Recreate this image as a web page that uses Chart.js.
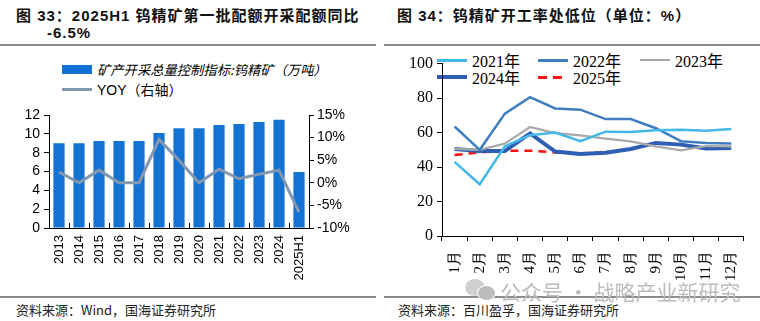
<!DOCTYPE html>
<html>
<head>
<meta charset="utf-8">
<script src="https://cdn.jsdelivr.net/npm/chart.js@4/dist/chart.umd.min.js"></script>
<style>
  body{margin:0;background:#fff;width:760px;height:321px;position:relative;overflow:hidden;font-family:"Liberation Sans","Noto Sans CJK SC",sans-serif;}
  .abs{position:absolute;}
  .title{font-weight:bold;font-size:15px;color:#111;letter-spacing:1px;white-space:nowrap;}
  .rule{height:1.5px;background:#8c8c8c;}
  .src{font-size:13px;color:#222;white-space:nowrap;font-family:"Noto Sans CJK SC","Liberation Sans",sans-serif;}
  .leg{font-size:13px;white-space:nowrap;display:flex;align-items:center;}
  .sw{display:inline-block;margin-right:5px;}
</style>
</head>
<body>
<div class="abs title" style="left:16px;top:4px;">图 33：2025H1 钨精矿第一批配额开采配额同比</div>
<div class="abs title" style="left:47px;top:24px;">-6.5%</div>
<div class="abs title" style="left:397px;top:4px;">图 34：钨精矿开工率处低位（单位：%）</div>
<div class="abs rule" style="left:0;top:44px;width:376px;"></div>
<div class="abs rule" style="left:384px;top:44px;width:376px;"></div>
<div class="abs rule" style="left:0;top:296px;width:376px;"></div>
<div class="abs rule" style="left:384px;top:296px;width:376px;"></div>
<div class="abs src" style="left:16px;top:300px;">资料来源：Wind，国海证券研究所</div>
<div class="abs src" style="left:398px;top:300px;">资料来源：百川盈孚，国海证券研究所</div>

<div id="legL"></div>
<div id="legR"></div>

<div class="abs" style="left:0;top:100px;"><canvas id="quotaChart" width="380" height="190"></canvas></div>
<div class="abs" style="left:380px;top:50px;"><canvas id="rateChart" width="380" height="240"></canvas></div>

<div class="abs" style="left:465px;top:279px;width:20px;height:17px;border-radius:50%;background:#cfcfcf;"></div>
<div class="abs" style="left:477px;top:285px;width:17px;height:14px;border-radius:50%;background:#bdbdbd;border:1px solid #fff;"></div>
<div class="abs" style="left:500px;top:276px;font-size:21px;color:#bcbcbc;white-space:nowrap;font-family:'Noto Sans CJK SC',sans-serif;">公众号 · 战略产业新研究</div>

<script>
// chart 33 data
const years = ['2013','2014','2015','2016','2017','2018','2019','2020','2021','2022','2023','2024','2025H1'];
const quota = [9.0, 9.0, 9.25, 9.25, 9.25, 10.1, 10.6, 10.6, 10.95, 11.05, 11.25, 11.5, 5.95];
const yoy = [2.4, 0, 2.8, 0, 0, 9.6, 5.0, 0, 3.0, 0.9, 1.9, 2.8, -6.5];

// chart 34 data
const months = ['1月','2月','3月','4月','5月','6月','7月','8月','9月','10月','11月','12月'];
const rate2021 = [43, 30, 52, 58.5, 60, 55, 60.5, 60.3, 61.3, 61.7, 61, 62];
const rate2022 = [63.5, 50, 71, 80.5, 74, 73.3, 67.8, 67.8, 62.5, 55, 54, 53.7];
const rate2023 = [50.5, 50, 53.6, 63.2, 59.7, 58.4, 56.5, 54.9, 52, 49.7, 52.2, 52];
const rate2024 = [50.5, 49.3, 49.3, 59.5, 49, 47.5, 48.3, 50.5, 54, 53, 50.8, 51];
const rate2025 = [47, 48.5, 49.5, 49.5, 48.5, 47.8, 48.8, null, null, null, null, null];

Chart.defaults.font.family = '"Liberation Sans", Arial, sans-serif';
Chart.defaults.color = '#000';
Chart.defaults.animation = false;

function fixSize(w, h){
  return function(scale){
    if (w != null) scale.width = w;
    if (h != null) scale.height = h;
  };
}

// little category ticks pointing up into the plot
const innerTicks = {
  id: 'innerTicks',
  afterDraw(chart){
    const x = chart.scales.x, ctx = chart.ctx, b = chart.chartArea.bottom;
    ctx.save();
    ctx.strokeStyle = '#000';
    ctx.lineWidth = 1;
    for (let i = 0; i < years.length - 1; i++){
      const px = Math.round((x.getPixelForValue(i) + x.getPixelForValue(i + 1)) / 2) + 0.5;
      ctx.beginPath();
      ctx.moveTo(px, b);
      ctx.lineTo(px, b - 5);
      ctx.stroke();
    }
    ctx.restore();
  }
};

const quotaChart = new Chart(document.getElementById('quotaChart'), {
  data: {
    labels: years,
    datasets: [
      {type: 'line', label: 'YOY（右轴）', data: yoy, yAxisID: 'y1', borderColor: '#8497b0', borderWidth: 3, pointRadius: 0, tension: 0, order: 0},
      {type: 'bar', label: '矿产开采总量控制指标:钨精矿（万吨）', data: quota, yAxisID: 'y', backgroundColor: '#1273d4', barPercentage: 0.56, categoryPercentage: 1, order: 1}
    ]
  },
  options: {
    responsive: false,
    layout: {padding: {top: 15, left: 0, right: 0, bottom: 0}},
    plugins: {legend: {display: false}, tooltip: {enabled: false}},
    scales: {
      x: {
        grid: {drawOnChartArea: false, drawTicks: false},
        border: {color: '#000'},
        ticks: {maxRotation: 90, minRotation: 90, padding: 7, font: {size: 13}, autoSkip: false},
        afterFit: fixSize(null, 62)
      },
      y: {
        position: 'left', min: 0, max: 12,
        grid: {drawOnChartArea: false, tickLength: 5, color: '#000'},
        border: {color: '#000'},
        ticks: {stepSize: 2, padding: 4, autoSkip: false, font: {size: 14}},
        afterFit: fixSize(49, null)
      },
      y1: {
        position: 'right', min: -10, max: 15,
        grid: {drawOnChartArea: false, tickLength: 5, color: '#000'},
        border: {color: '#000'},
        ticks: {stepSize: 5, padding: 3, autoSkip: false, font: {size: 14}, callback: v => v + '%'},
        afterFit: fixSize(71, null)
      }
    }
  },
  plugins: [innerTicks]
});

const serif = '"Liberation Serif", "Times New Roman", serif';
const rateChart = new Chart(document.getElementById('rateChart'), {
  type: 'line',
  data: {
    labels: months,
    datasets: [
      {label: '2021年', data: rate2021, borderColor: '#45b8ea', borderWidth: 2.5},
      {label: '2022年', data: rate2022, borderColor: '#3f7fc1', borderWidth: 2.5},
      {label: '2023年', data: rate2023, borderColor: '#a9a9a9', borderWidth: 2.2},
      {label: '2024年', data: rate2024, borderColor: '#2f5fb4', borderWidth: 4},
      {label: '2025年', data: rate2025, borderColor: '#ff1010', borderWidth: 2.5, borderDash: [8, 6]}
    ].map(d => Object.assign({pointRadius: 0, tension: 0, fill: false}, d))
  },
  options: {
    responsive: false,
    layout: {padding: {top: 13, left: 0, right: 16, bottom: 0}},
    plugins: {legend: {display: false}, tooltip: {enabled: false}},
    scales: {
      x: {
        offset: true,
        grid: {offset: true, drawOnChartArea: false, tickLength: 5, color: '#000'},
        border: {color: '#000'},
        ticks: {maxRotation: 90, minRotation: 90, padding: 10, autoSkip: false, font: {family: serif, size: 15}},
        afterFit: fixSize(null, 54)
      },
      y: {
        min: 0, max: 100,
        grid: {drawOnChartArea: false, tickLength: 5, color: '#000'},
        border: {color: '#000'},
        ticks: {stepSize: 20, padding: 4, autoSkip: false, font: {family: serif, size: 16}},
        afterFit: fixSize(62, null)
      }
    }
  }
});

// html legends built from the datasets
function addLegend(host, items){
  items.forEach(it => {
    const d = document.createElement('div');
    d.className = 'abs leg';
    d.style.left = it.x + 'px';
    d.style.top = (it.y - 10) + 'px';
    d.style.height = '20px';
    d.style.font = it.font;
    const sw = document.createElement('span');
    sw.className = 'sw';
    sw.style.width = '30px';
    sw.style.height = it.h + 'px';
    if (it.dash) {
      sw.style.background = 'repeating-linear-gradient(90deg,' + it.color + ' 0 9px, transparent 9px 15px)';
    } else {
      sw.style.background = it.color;
    }
    const t = document.createElement('span');
    t.textContent = it.text;
    if (it.italic) t.style.fontStyle = 'italic';
    d.appendChild(sw);
    d.appendChild(t);
    document.getElementById(host).appendChild(d);
  });
}

const ql = quotaChart.data.datasets;
addLegend('legL', [
  {x: 62, y: 69, text: ql[1].label, color: ql[1].backgroundColor, h: 9, font: '13.3px "Noto Sans CJK SC", sans-serif', italic: true},
  {x: 62, y: 89, text: ql[0].label, color: ql[0].borderColor, h: 3, font: '14px "Liberation Sans", "Noto Sans CJK SC", sans-serif'}
]);

const rl = rateChart.data.datasets;
const rf = '16px "Liberation Serif", "Noto Sans CJK SC", serif';
const pos = [[437, 60], [538, 60], [640, 60], [437, 77], [538, 77]];
addLegend('legR', rl.map((d, i) => ({
  x: pos[i][0], y: pos[i][1], text: d.label, color: d.borderColor,
  h: Math.max(2, Math.round(d.borderWidth)), dash: !!d.borderDash, font: rf
})));
</script>
</body>
</html>
